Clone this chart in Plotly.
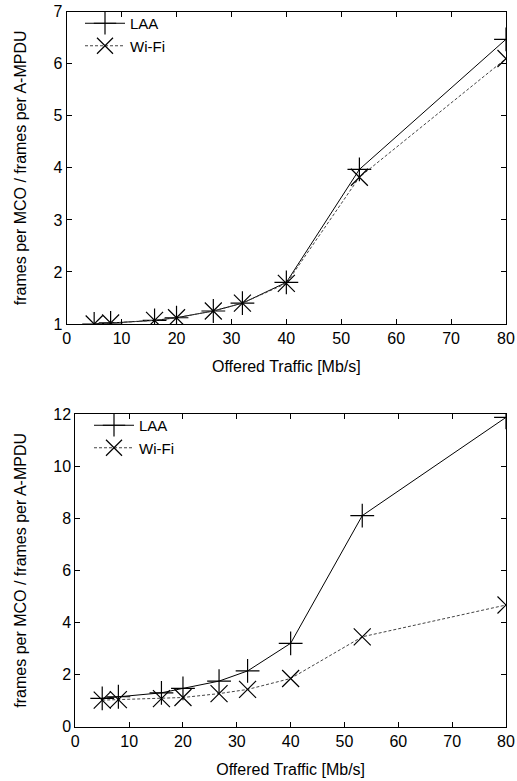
import plotly.graph_objects as go

# Data
offered_traffic = [5, 8, 16, 20, 26.7, 32, 40, 53.3, 80]

top_laa = [1.0, 1.02, 1.07, 1.12, 1.25, 1.40, 1.80, 3.97, 6.47]
top_wifi = [1.0, 1.02, 1.07, 1.12, 1.25, 1.40, 1.78, 3.82, 6.10]

bot_laa = [1.09, 1.15, 1.30, 1.47, 1.75, 2.14, 3.20, 8.10, 11.87]
bot_wifi = [1.02, 1.04, 1.08, 1.12, 1.27, 1.43, 1.85, 3.45, 4.67]

series_names = ["LAA", "Wi-Fi"]
x_title = "Offered Traffic [Mb/s]"
y_title = "frames per MCO / frames per A-MPDU"

FONT = "Liberation Sans, Arial, Helvetica, sans-serif"
FS = 16
W, H = 517, 781

fig = go.Figure()

def add_pair(laa, wifi, xa, ya, legend):
    fig.add_trace(go.Scatter(
        x=offered_traffic, y=laa, name=series_names[0], mode="lines+markers",
        xaxis=xa, yaxis=ya, legend=legend,
        line=dict(color="black", width=1),
        marker=dict(symbol="cross-thin", size=17, line=dict(color="black", width=1.2)),
    ))
    fig.add_trace(go.Scatter(
        x=offered_traffic, y=wifi, name=series_names[1], mode="lines+markers",
        xaxis=xa, yaxis=ya, legend=legend,
        line=dict(color="#444444", width=1, dash="3px,2px"),
        marker=dict(symbol="x-thin", size=17, line=dict(color="black", width=1.2)),
    ))

add_pair(top_laa, top_wifi, "x", "y", "legend")
add_pair(bot_laa, bot_wifi, "x2", "y2", "legend2")

axis_common = dict(
    showline=True, linecolor="black", linewidth=1, mirror="allticks",
    ticks="inside", ticklen=5, tickcolor="black", tickwidth=1,
    showgrid=False, zeroline=False, automargin=False,
    tickfont=dict(family=FONT, size=FS, color="black"),
)

def px_x(p):
    return p / W

def px_y(p):
    return 1 - p / H

fig.update_layout(
    width=W, height=H,
    margin=dict(l=0, r=0, t=0, b=0, autoexpand=False),
    paper_bgcolor="white", plot_bgcolor="white",
    font=dict(family=FONT, size=FS, color="black"),
    xaxis=dict(axis_common, domain=[px_x(66.7), px_x(506)], range=[0, 80], dtick=10,
               anchor="y",
               title=dict(text=x_title, font=dict(size=FS), standoff=14)),
    yaxis=dict(axis_common, domain=[px_y(324), px_y(11.7)], range=[1, 7], dtick=1,
               anchor="x",
               title=dict(text=y_title, font=dict(size=FS), standoff=22)),
    xaxis2=dict(axis_common, domain=[px_x(75.3), px_x(506)], range=[0, 80], dtick=10,
                anchor="y2",
                title=dict(text=x_title, font=dict(size=FS), standoff=14)),
    yaxis2=dict(axis_common, domain=[px_y(726.7), px_y(414)], range=[0, 12], dtick=2,
                anchor="x2",
                title=dict(text=y_title, font=dict(size=FS), standoff=22)),
    legend=dict(x=px_x(80), y=px_y(7), xanchor="left", yanchor="top",
                bgcolor="rgba(0,0,0,0)", font=dict(size=15), tracegroupgap=0,
                itemwidth=40),
    legend2=dict(x=px_x(89), y=px_y(409), xanchor="left", yanchor="top",
                 bgcolor="rgba(0,0,0,0)", font=dict(size=15), tracegroupgap=0,
                 itemwidth=40),
    showlegend=True,
)

fig.write_html("out.html", post_script="document.body.style.margin='0';",
               config={"displayModeBar": False})
